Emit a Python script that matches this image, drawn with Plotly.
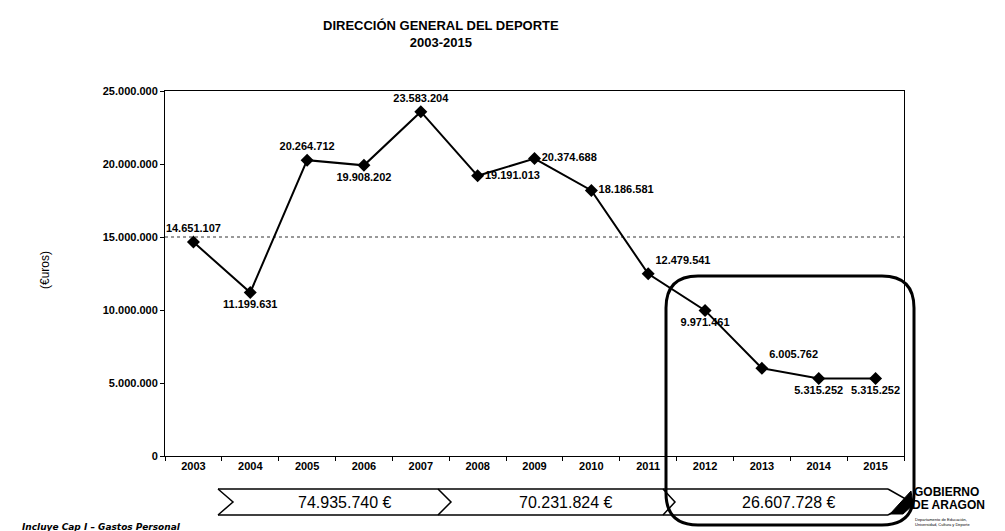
import plotly.graph_objects as go

# ---------------- data ----------------
years = ["2003", "2004", "2005", "2006", "2007", "2008", "2009",
         "2010", "2011", "2012", "2013", "2014", "2015"]
gasto = [14651107, 11199631, 20264712, 19908202, 23583204, 19191013, 20374688,
         18186581, 12479541, 9971461, 6005762, 5315252, 5315252]
label_pos = ["top center", "bottom center", "top center", "bottom center", "top center",
             "middle right", "middle right", "middle right", "top right",
             "bottom center", "top right", "bottom center", "bottom center"]
y_tickvals = [0, 5000000, 10000000, 15000000, 20000000, 25000000]
y_ticktext = ["0", "5.000.000", "10.000.000", "15.000.000", "20.000.000", "25.000.000"]
band_totals = ["74.935.740 €", "70.231.824 €", "26.607.728 €"]
grid_level = 15000000

# ---------------- layout geometry (pixels) ----------------
W, H = 1005, 531
L, R, T, B = 157, 896, 83, 448   # plot area in pixels


def px(x):
    return (x - L) / (R - L)


def py(y):
    return (B - y) / (B - T)


def fmt(v):
    return f"{v:,}".replace(",", ".")


FONT = "Liberation Sans, Arial, sans-serif"

fig = go.Figure()
fig.add_trace(go.Scatter(
    x=years, y=gasto,
    mode="lines+markers+text",
    line=dict(color="black", width=2),
    marker=dict(symbol="diamond", size=10, color="black"),
    text=[f"<b>{fmt(v)}</b>" for v in gasto],
    textposition=label_pos,
    textfont=dict(family=FONT, size=11, color="black"),
    cliponaxis=False,
    hoverinfo="skip",
    showlegend=False,
))

shapes = []
# dotted gridline
shapes.append(dict(type="line", xref="paper", yref="y", x0=0, x1=1,
                   y0=grid_level, y1=grid_level,
                   line=dict(color="#333", width=1, dash="dot"), layer="below"))

# chevron band
y_top, y_mid, y_bot = py(481), py(494), py(507)
band_x = [(210, 225), (430, 443), (655, 667), (880, 903)]
shapes.append(dict(type="line", xref="paper", yref="paper", x0=px(210), x1=px(880),
                   y0=y_top, y1=y_top, line=dict(color="black", width=1.5)))
shapes.append(dict(type="line", xref="paper", yref="paper", x0=px(210), x1=px(880),
                   y0=y_bot, y1=y_bot, line=dict(color="black", width=1.5)))
for a, b in band_x:
    path = f"M {px(a)},{y_top} L {px(b)},{y_mid} L {px(a)},{y_bot}"
    shapes.append(dict(type="path", xref="paper", yref="paper", path=path,
                       line=dict(color="black", width=1.5)))

# rounded rectangle highlighting 2012-2015
x0, x1, y0, y1, r = 658, 906, 268, 517, 32
rx, ry = r / (R - L), r / (B - T)
p = (f"M {px(x0)+rx},{py(y0)} L {px(x1)-rx},{py(y0)} "
     f"Q {px(x1)},{py(y0)} {px(x1)},{py(y0)-ry} "
     f"L {px(x1)},{py(y1)+ry} Q {px(x1)},{py(y1)} {px(x1)-rx},{py(y1)} "
     f"L {px(x0)+rx},{py(y1)} Q {px(x0)},{py(y1)} {px(x0)},{py(y1)+ry} "
     f"L {px(x0)},{py(y0)-ry} Q {px(x0)},{py(y0)} {px(x0)+rx},{py(y0)} Z")
shapes.append(dict(type="path", xref="paper", yref="paper", path=p,
                   line=dict(color="black", width=3), layer="above"))

# logo mark
logo = (f"M {px(882)},{py(506)} L {px(903)},{py(483)} L {px(905)},{py(497)} "
        f"L {px(895)},{py(506)} Z")
shapes.append(dict(type="path", xref="paper", yref="paper", path=logo,
                   fillcolor="black", line=dict(color="black", width=1)))

annotations = []
annotations.append(dict(text="<b>DIRECCIÓN GENERAL DEL DEPORTE<br>2003-2015</b>",
                        xref="paper", yref="paper", x=px(433), y=py(26),
                        xanchor="center", yanchor="middle", showarrow=False,
                        font=dict(family=FONT, size=13, color="black")))
annotations.append(dict(text="(€uros)", xref="paper", yref="paper",
                        x=px(37), y=py(262), textangle=-90, showarrow=False,
                        xanchor="center", yanchor="middle",
                        font=dict(family=FONT, size=12, color="black")))
for txt, cx in zip(band_totals, [337, 558, 781]):
    annotations.append(dict(text=txt, xref="paper", yref="paper", x=px(cx), y=y_mid,
                            xanchor="center", yanchor="middle", showarrow=False,
                            font=dict(family="Liberation Sans Narrow, Arial Narrow, Liberation Sans, Arial",
                                      size=16, color="black")))
annotations.append(dict(text="<b><i>Incluye Cap I – Gastos Personal</i></b>",
                        xref="paper", yref="paper", x=px(12), y=py(519),
                        xanchor="left", yanchor="middle", showarrow=False,
                        font=dict(family="DejaVu Sans, sans-serif", size=9, color="black")))
annotations.append(dict(text="<b>GOBIERNO</b>", xref="paper", yref="paper",
                        x=px(904), y=py(484), xanchor="left", yanchor="middle",
                        showarrow=False, font=dict(family=FONT, size=12, color="black")))
annotations.append(dict(text="<b>DE ARAGON</b>", xref="paper", yref="paper",
                        x=px(902), y=py(497), xanchor="left", yanchor="middle",
                        showarrow=False, font=dict(family=FONT, size=12, color="black")))
annotations.append(dict(text="Departamento de Educación,<br>Universidad, Cultura y Deporte",
                        xref="paper", yref="paper", x=px(905), y=py(514),
                        xanchor="left", yanchor="middle", showarrow=False, align="left",
                        font=dict(family=FONT, size=4, color="black")))

fig.update_layout(
    width=W, height=H,
    margin=dict(l=L, r=W - R, t=T, b=H - B, pad=0),
    paper_bgcolor="white", plot_bgcolor="white",
    font=dict(family=FONT, size=12, color="black"),
    shapes=shapes, annotations=annotations,
    showlegend=False,
)
fig.update_xaxes(type="category", showgrid=False, showline=True, linecolor="black",
                 linewidth=1, mirror=True, ticks="outside", tickson="boundaries",
                 ticklen=4, tickcolor="black", range=[-0.5, 12.5],
                 tickprefix="<b>", ticksuffix="</b>",
                 tickfont=dict(family=FONT, size=11, color="black"))
fig.update_yaxes(range=[0, 25000000], tickvals=y_tickvals,
                 ticktext=[f"<b>{t}</b>" for t in y_ticktext],
                 showgrid=False, zeroline=False, showline=True, linecolor="black",
                 linewidth=1, mirror=True, ticks="outside", ticklen=4,
                 tickcolor="black", tickfont=dict(family=FONT, size=11, color="black"))

fig.write_html("out.html")
